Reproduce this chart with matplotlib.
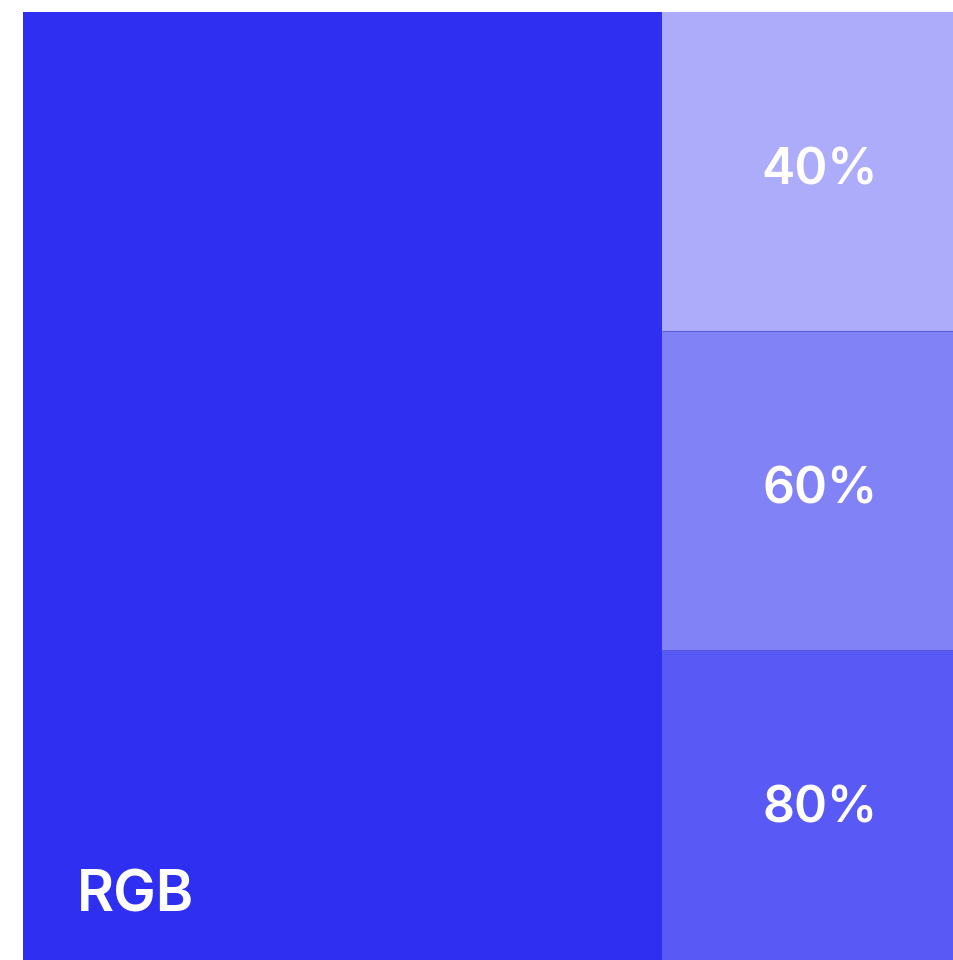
import matplotlib
matplotlib.use('Agg')
import matplotlib.pyplot as plt

# swatch data
main_label = 'RGB'
main_color = '#2f2ff2'
main_width = 639
total_width = 931
tile_labels = ['40%', '60%', '80%']
tile_colors = ['#acacfa', '#8282f7', '#5959f5']
tile_heights = [319, 319, 310]

fig = plt.figure(figsize=(9.54, 9.6), dpi=100)
ax = fig.add_axes([23 / 954, 0, 931 / 954, 948 / 960])
total_height = sum(tile_heights)
ax.set_xlim(0, total_width)
ax.set_ylim(0, total_height)
ax.axis('off')

ax.bar(0, total_height, width=main_width, bottom=0, align='edge', color=main_color, linewidth=0)
ax.text(54, 48, main_label, color='white', fontsize=41, fontweight='semibold',
        family=['Inter', 'DejaVu Sans'], ha='left', va='baseline')

top = total_height
for label, color, h in zip(tile_labels, tile_colors, tile_heights):
    bottom = top - h
    ax.bar(main_width, h, width=total_width - main_width, bottom=bottom, align='edge',
           color=color, linewidth=0)
    # labels sit a little right of the tile centre
    ax.text(main_width + 158, top - 159, label, color='white',
            fontsize=36, fontweight='semibold', family=['Inter', 'DejaVu Sans'],
            ha='center', va='center')
    if bottom > 0:
        ax.hlines(bottom, main_width, total_width, color='#5a5ae0', linewidth=0.8)
    top = bottom

fig.savefig('out.png', dpi=100)
